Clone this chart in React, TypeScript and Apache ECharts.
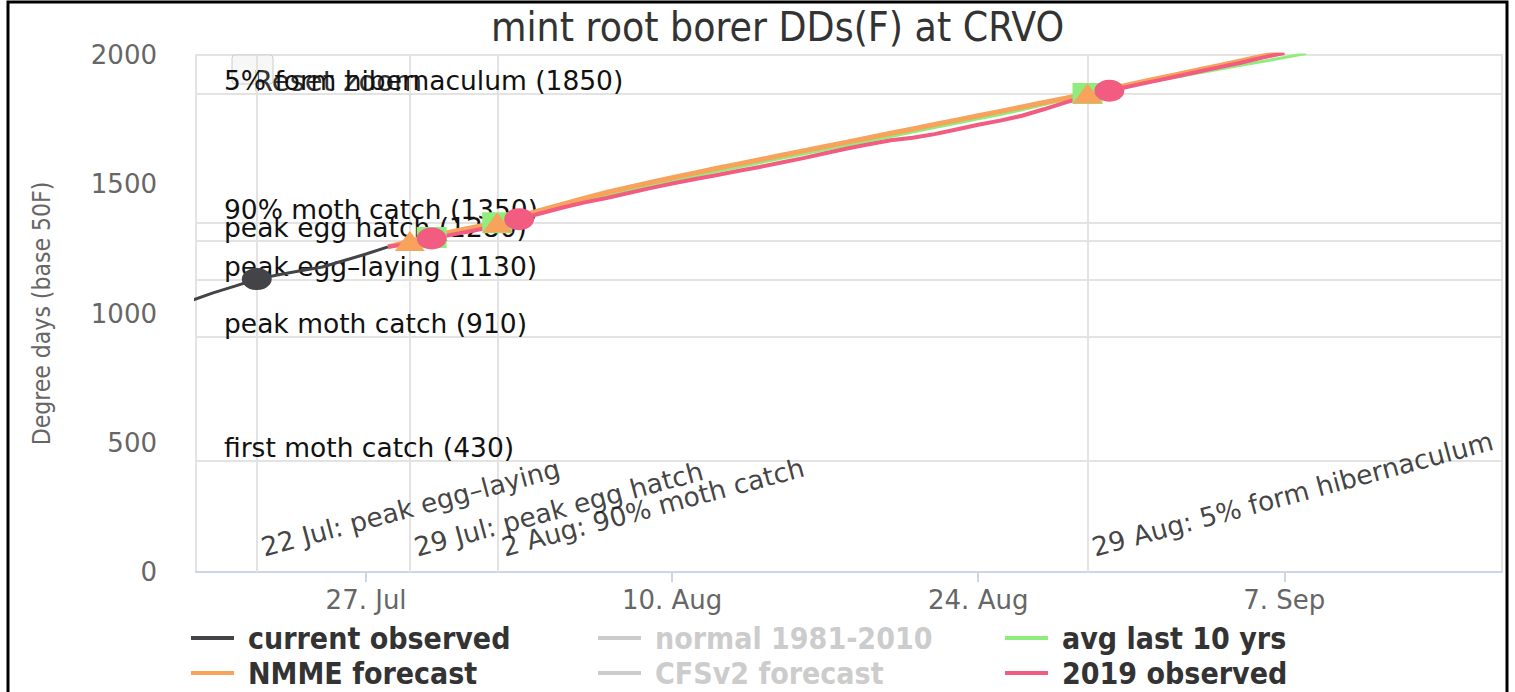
import React, { useEffect, useRef } from "react";
import * as echarts from "echarts";

// x values are day numbers counted from 30 Jun (1 = 1 Jul, 32 = 1 Aug, 63 = 1 Sep)
const xMin = 19.22;
const xMax = 78.96;
const xTickValues = [27, 41, 55, 69];
const xTickLabels = ["27. Jul", "10. Aug", "24. Aug", "7. Sep"];

const currentDays = [19, 20, 21, 22, 23, 24, 25, 26, 27, 28];
const currentValues = [1050, 1080, 1106, 1133, 1150, 1165, 1180, 1205, 1230, 1258];
const currentMarkerDays = [22];

const nmmeDays = [28, 29, 30, 31, 32, 33, 34, 35, 36, 37, 38, 39, 40, 41, 42, 43, 44, 45, 46, 47, 48, 49, 50, 51, 52, 53, 54, 55, 56, 57, 58, 59, 60, 61, 62, 63, 64, 65, 66, 67, 68, 69];
const nmmeValues = [1258, 1280, 1299, 1317, 1335, 1352, 1376, 1400, 1423, 1446, 1468, 1488, 1507, 1525, 1543, 1561, 1578, 1595, 1612, 1629, 1646, 1663, 1680, 1697, 1714, 1731, 1748, 1765, 1782, 1799, 1816, 1833, 1851, 1869, 1887, 1905, 1923, 1941, 1959, 1977, 1995, 2013];
const nmmeMarkerDays = [29, 33, 60];

const avgDays = [28, 29, 30, 31, 32, 33, 34, 35, 36, 37, 38, 39, 40, 41, 42, 43, 44, 45, 46, 47, 48, 49, 50, 51, 52, 53, 54, 55, 56, 57, 58, 59, 60, 61, 62, 63, 64, 65, 66, 67, 68, 69, 70];
const avgValues = [1258, 1276, 1294, 1313, 1332, 1351, 1372, 1394, 1416, 1438, 1459, 1479, 1497, 1515, 1532, 1549, 1566, 1583, 1600, 1617, 1634, 1651, 1668, 1685, 1702, 1719, 1736, 1753, 1770, 1788, 1808, 1829, 1851, 1867, 1883, 1898, 1914, 1929, 1945, 1960, 1975, 1990, 2006];
const avgMarkerDays = [30, 33, 60];

const obs2019Days = [28, 29, 30, 31, 32, 33, 34, 35, 36, 37, 38, 39, 40, 41, 42, 43, 44, 45, 46, 47, 48, 49, 50, 51, 52, 53, 54, 55, 56, 57, 58, 59, 60, 61, 62, 63, 64, 65, 66, 67, 68, 69];
const obs2019Values = [1258, 1270, 1290, 1306, 1322, 1340, 1365, 1388, 1410, 1430, 1447, 1466, 1485, 1503, 1519, 1535, 1551, 1567, 1584, 1601, 1620, 1638, 1655, 1670, 1680, 1694, 1712, 1730, 1746, 1765, 1790, 1817, 1840, 1862, 1880, 1898, 1916, 1934, 1952, 1970, 1990, 2008];
const obs2019MarkerDays = [30, 34, 61];

const thresholdValues = [430, 910, 1130, 1280, 1350, 1850];
const thresholdLabels = [
  "first moth catch (430)",
  "peak moth catch (910)",
  "peak egg\u2013laying (1130)",
  "peak egg hatch (1280)",
  "90% moth catch (1350)",
  "5% form hibernaculum (1850)",
];

const eventDays = [22, 29, 33, 60];
const eventLabels = [
  "22 Jul: peak egg\u2013laying",
  "29 Jul: peak egg hatch",
  "2 Aug: 90% moth catch",
  "29 Aug: 5% form hibernaculum",
];

const COND = '"DejaVu Sans Condensed", "Liberation Sans Narrow", "DejaVu Sans", sans-serif';
const WIDE = '"DejaVu Sans", Verdana, sans-serif';

function buildData(days: number[], values: number[], markerDays: number[], symbol: string, size: number[]) {
  return values.map((v, i) => {
    const d = days[i];
    if (markerDays.indexOf(d) >= 0) {
      return { value: [d, v], symbol, symbolSize: size };
    }
    return [d, v];
  });
}

export default function App() {
  const ref = useRef<HTMLDivElement>(null);

  useEffect(() => {
    if (!ref.current) return;
    const chart = echarts.init(ref.current, null, { renderer: "svg" });

    const legendCommon = {
      orient: "vertical",
      icon: "rect",
      itemWidth: 43,
      itemHeight: 4,
      itemGap: 5,
      top: 623,
      height: 90,
      padding: 0,
      inactiveColor: "#cccccc",
      textStyle: {
        fontFamily: COND,
        fontWeight: "bold",
        fontSize: 30,
        color: "#333333",
        lineHeight: 30,
        padding: [0, 0, 0, 9],
      },
    };

    const lineCommon = {
      type: "line",
      symbol: "none",
      showSymbol: true,
      smooth: false,
      animation: false,
      emphasis: { disabled: true },
    };

    const option: any = {
      animation: false,
      backgroundColor: "#ffffff",
      title: {
        text: "mint root borer DDs(F) at CRVO",
        left: 491,
        top: 6,
        padding: 0,
        textStyle: { fontFamily: COND, fontWeight: "normal", fontSize: 40.5, color: "#333333" },
      },
      grid: {
        left: 196,
        right: 13,
        top: 55,
        bottom: 120,
        show: true,
        borderColor: "#e3e3e3",
        borderWidth: 2,
      },
      legend: [
        { ...legendCommon, left: 191, data: ["current observed", "NMME forecast"] },
        {
          ...legendCommon,
          left: 598,
          data: ["normal 1981-2010", "CFSv2 forecast"],
          selected: { "normal 1981-2010": false, "CFSv2 forecast": false },
        },
        { ...legendCommon, left: 1005, data: ["avg last 10 yrs", "2019 observed"] },
      ],
      xAxis: {
        type: "value",
        min: xMin,
        max: xMax,
        splitLine: { show: false },
        axisLine: { show: true, onZero: false, lineStyle: { color: "#ccd6eb", width: 2 } },
        axisTick: { show: true, customValues: xTickValues, length: 10, lineStyle: { color: "#ccd6eb", width: 2 } },
        axisLabel: {
          customValues: xTickValues,
          formatter: (v: number) => {
            const i = xTickValues.indexOf(Math.round(v));
            return i >= 0 ? xTickLabels[i] : "";
          },
          color: "#666666",
          fontSize: 26,
          fontFamily: WIDE,
          margin: 15,
        },
      },
      yAxis: {
        type: "value",
        min: 0,
        max: 2000,
        interval: 500,
        splitLine: { show: false },
        axisLine: { show: false },
        axisTick: { show: false },
        axisLabel: {
          color: "#666666",
          fontSize: 26,
          fontFamily: WIDE,
          margin: 39,
          formatter: (v: number) => String(v),
        },
        name: "Degree days (base 50F)",
        nameLocation: "middle",
        nameGap: 142,
        nameTextStyle: { color: "#666666", fontSize: 24.5, fontFamily: COND },
      },
      graphic: [
        {
          type: "rect",
          shape: { x: 232, y: 55, width: 41, height: 29, r: 3 },
          style: { fill: "#f7f7f7", stroke: "#cccccc", lineWidth: 1 },
          z: 0,
          silent: true,
        },
        {
          type: "text",
          x: 253,
          y: 81,
          style: { text: "Reset zoom", fill: "#333333", font: `29px ${WIDE}`, textVerticalAlign: "middle" },
          z: 0,
          silent: true,
        },
        {
          type: "rect",
          shape: { x: 8, y: 2, width: 1499, height: 720 },
          style: { fill: "none", stroke: "#000000", lineWidth: 3 },
          z: 100,
          silent: true,
        },
      ],
      series: [
        {
          name: "plot lines",
          type: "line",
          data: [],
          silent: true,
          z: 1,
          markLine: {
            silent: true,
            symbol: ["none", "none"],
            z: 1,
            animation: false,
            lineStyle: { color: "#e3e3e3", width: 2, type: "solid" },
            emphasis: { disabled: true },
            data: [
              ...thresholdValues.map((t, i) => ({
                yAxis: t,
                name: thresholdLabels[i],
                label: {
                  show: true,
                  position: "insideStartTop",
                  formatter: "{b}",
                  distance: [28, 0],
                  color: "#111111",
                  fontSize: 26.5,
                  fontFamily: WIDE,
                },
              })),
              ...eventDays.map((d) => ({ xAxis: d, label: { show: false } })),
            ],
          },
        },
        {
          name: "event labels",
          type: "scatter",
          data: eventDays.map((d) => [d, 0]),
          symbol: "circle",
          symbolSize: 1,
          itemStyle: { color: "rgba(0,0,0,0)" },
          silent: true,
          z: 1,
          label: {
            show: true,
            formatter: (p: any) => eventLabels[p.dataIndex],
            position: [9, -11],
            align: "left",
            verticalAlign: "bottom",
            rotate: 15,
            color: "#111111",
            fontSize: 26.5,
            fontFamily: WIDE,
          },
        },
        {
          ...lineCommon,
          name: "current observed",
          color: "#434348",
          lineStyle: { width: 3, color: "#434348" },
          itemStyle: { color: "#434348" },
          data: buildData(currentDays, currentValues, currentMarkerDays, "circle", [30, 22]),
        },
        { ...lineCommon, name: "normal 1981-2010", color: "#7cb5ec", data: [] },
        {
          ...lineCommon,
          name: "avg last 10 yrs",
          color: "#90ed7d",
          lineStyle: { width: 3, color: "#90ed7d" },
          itemStyle: { color: "#90ed7d" },
          data: buildData(avgDays, avgValues, avgMarkerDays, "rect", [30, 21]),
        },
        {
          ...lineCommon,
          name: "NMME forecast",
          color: "#f7a35c",
          lineStyle: { width: 5, color: "#f7a35c" },
          itemStyle: { color: "#f7a35c" },
          data: buildData(nmmeDays, nmmeValues, nmmeMarkerDays, "triangle", [30, 20]),
        },
        { ...lineCommon, name: "CFSv2 forecast", color: "#8085e9", data: [] },
        {
          ...lineCommon,
          name: "2019 observed",
          color: "#f15c80",
          lineStyle: { width: 4, color: "#f15c80" },
          itemStyle: { color: "#f15c80" },
          data: buildData(obs2019Days, obs2019Values, obs2019MarkerDays, "circle", [30, 22]),
        },
      ],
    };

    chart.setOption(option);
    return () => chart.dispose();
  }, []);

  return (
    <div
      ref={ref}
      style={{ position: "absolute", left: 0, top: 0, width: 1515, height: 692 }}
    />
  );
}
